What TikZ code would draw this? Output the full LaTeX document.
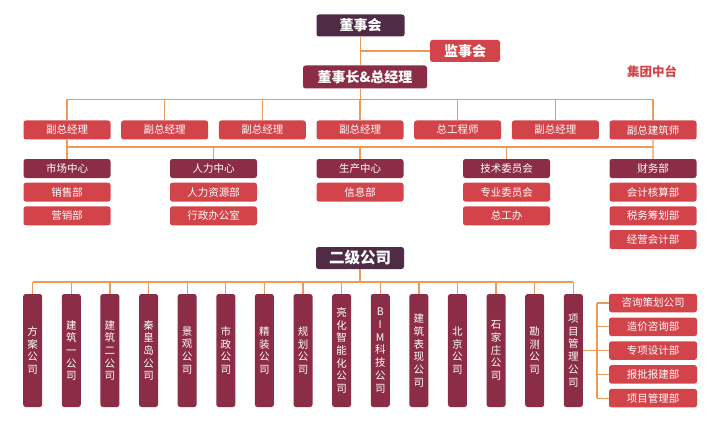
\documentclass[tikz,border=0pt]{standalone}
\usepackage{fontspec}
\setmainfont{Noto Sans CJK SC}
\usetikzlibrary{positioning}
\definecolor{plum}{HTML}{4F2B46}
\definecolor{wine}{HTML}{8B2D46}
\definecolor{brick}{HTML}{D2444A}
\definecolor{wire}{HTML}{EE9A56}

\begin{document}
\begin{tikzpicture}[x=1pt,y=-1pt,
  tag/.style={rounded corners=2.5pt,text=white,inner sep=0pt,font=\fontsize{10.5}{12.7}\selectfont},
  head/.style={tag,fill=plum,minimum height=22pt,font=\bfseries\fontsize{14}{16}\selectfont},
  redbox/.style={tag,fill=brick,minimum width=87pt,minimum height=19pt},
  winebox/.style={tag,fill=wine,minimum width=87pt,minimum height=19pt},
  colbox/.style={tag,fill=wine,minimum width=19pt,minimum height=113pt,align=center},
  link/.style={draw=wire,line width=1.3pt}]
\useasboundingbox (0,0) rectangle (720,425);
% board and management
\node[head,minimum width=88pt] (board) at (360.5,25.5) {董事会};
\node[head,fill=brick,minimum width=70pt] (sup) at (465,51) {监事会};
\node[head,fill=wine,minimum width=124pt,minimum height=23pt] (chair) at (365,77) {董事长\&总经理};
\node[text=brick,font=\bfseries\fontsize{12.5}{14}\selectfont] (mid) at (652,72) {集团中台};
\draw[link] (board.south) -- (board.south|-chair.north);
\draw[link] (sup.west) -- (sup.west-|board.south);
% deputies
\coordinate (bus1) at (0,99.5);
\foreach \t [count=\i] in {副总经理,副总经理,副总经理,副总经理,总工程师,副总经理,副总建筑师}
  \node[redbox] (vp\i) at ({67+97.67*(\i-1)},130) {\t};
\draw[link] (board.south|-chair.south) -- (board.south|-bus1);
\draw[link] (vp1.north|-bus1) -- (vp7.north|-bus1);
\foreach \i in {1,...,7} \draw[link] (vp\i.north) -- (vp\i.north|-bus1);
% centres
\coordinate (bus2) at (0,147);
\foreach \t/\n/\x in {市场中心/mkt/67,人力中心/hr/213.5,生产中心/prod/360,技术委员会/tech/506.5,财务部/fin/653}
  \node[winebox] (\n) at (\x,168.5) {\t};
\node[redbox,below=4.3pt of mkt] (mkt1) {销售部};
\node[redbox,below=4.3pt of mkt1] (mkt2) {营销部};
\node[redbox,below=4.3pt of hr] (hr1) {人力资源部};
\node[redbox,below=4.3pt of hr1] (hr2) {行政办公室};
\node[redbox,below=4.3pt of prod] (prod1) {信息部};
\node[redbox,below=4.3pt of tech] (tech1) {专业委员会};
\node[redbox,below=4.3pt of tech1] (tech2) {总工办};
\node[redbox,below=4.3pt of fin] (fin1) {会计核算部};
\node[redbox,below=4.3pt of fin1] (fin2) {税务筹划部};
\node[redbox,below=4.3pt of fin2] (fin3) {经营会计部};
\draw[link] (vp1.south) -- (mkt.north);
\draw[link] (vp7.south) -- (fin.north);
\draw[link] (mkt.north|-bus2) -- (fin.north|-bus2);
\foreach \n in {hr,prod,tech} \draw[link] (\n.north) -- (\n.north|-bus2);
% subsidiaries
\node[head,minimum width=88pt,font=\bfseries\fontsize{15.5}{17}\selectfont] (sub) at (360,258) {二级公司};
\coordinate (bus3) at (0,282);
\foreach \t [count=\i from 0] in {{方\\案\\公\\司},{建\\筑\\一\\公\\司},{建\\筑\\二\\公\\司},{秦\\皇\\岛\\公\\司},
  {景\\观\\公\\司},{市\\政\\公\\司},{精\\装\\公\\司},{规\\划\\公\\司},{亮\\化\\智\\能\\化\\公\\司},
  {B\\I\\M\\科\\技\\公\\司},{建\\筑\\表\\现\\公\\司},{北\\京\\公\\司},{石\\家\\庄\\公\\司},{勘\\测\\公\\司},{项\\目\\管\\理\\公\\司}}
  \node[colbox] (co\i) at ({32.7+38.617*\i},350.5) {\t};
\draw[link] (sub.south) -- (sub.south|-bus3);
\draw[link] (co0.north|-bus3) -- (co14.north|-bus3);
\foreach \i in {0,...,14} \draw[link] (co\i.north) -- (co\i.north|-bus3);
% project management units
\foreach \t [count=\i] in {咨询策划公司,造价咨询部,专项设计部,报批报建部,项目管理部}
  \node[redbox,minimum width=88pt,minimum height=18.5pt] (pm\i) at (653,{279.2+23.8*\i}) {\t};
\draw[link] (co14.east) -- ++(14,0) coordinate (hub);
\draw[link] (hub|-pm1.west) -- (hub|-pm5.west);
\foreach \i in {1,...,5} \draw[link] (hub|-pm\i.west) -- (pm\i.west);
\end{tikzpicture}
\end{document}
